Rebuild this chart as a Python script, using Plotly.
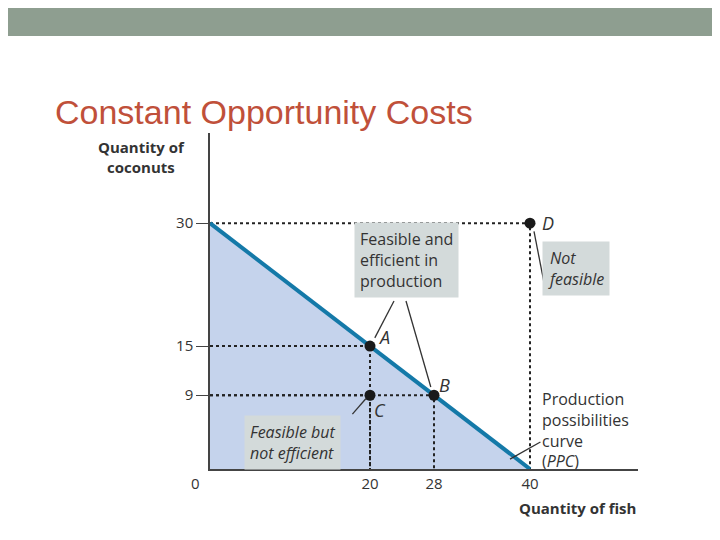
import plotly.graph_objects as go

ppc_x = [0, 40]
ppc_y = [30, 0]
pt_names = ["A", "B", "C", "D"]
pt_x = [20, 28, 20, 40]
pt_y = [15, 9, 9, 30]
xticks = [20, 28, 40]
yticks = [9, 15, 30]

fig = go.Figure()
fig.add_trace(go.Scatter(x=ppc_x + [0], y=ppc_y + [0], fill="toself", fillcolor="#C5D3EC",
                         line=dict(width=0), mode="lines", hoverinfo="skip"))
dot = dict(color="#222", width=2, dash="dot")
for x, y in zip(pt_x, pt_y):
    fig.add_trace(go.Scatter(x=[0, x, x], y=[y, y, 0], mode="lines", line=dot, hoverinfo="skip"))
fig.add_trace(go.Scatter(x=ppc_x, y=ppc_y, mode="lines", line=dict(color="#1479A8", width=4)))
fig.add_trace(go.Scatter(x=pt_x, y=pt_y, mode="markers", marker=dict(color="#1a1a1a", size=11)))

lab_font = dict(family="Open Sans", size=16, color="#333")
for n, x, y, dx, dy in zip(pt_names, pt_x, pt_y, [1.8, 1.3, 1.2, 2.3], [1.1, 1.3, -1.8, 0]):
    fig.add_annotation(x=x + dx, y=y + dy, text=f"<i>{n}</i>", showarrow=False, font=dict(family="Open Sans", size=18, color="#333"))

box = dict(bgcolor="#D3DADA", borderpad=5, showarrow=False, align="left", font=lab_font, xanchor="left")
fig.add_annotation(x=18, y=25.5, text="Feasible and<br>efficient in<br>production", **box)
fig.add_annotation(x=41.5, y=24.5, text="<i>Not<br>feasible</i>", **box)
fig.add_annotation(x=4.3, y=3.2, text="<i>Feasible but<br>not efficient</i>", **box)
fig.add_annotation(x=41.2, y=4.8, text="Production<br>possibilities<br>curve<br>(<i>PPC</i>)", showarrow=False,
                   align="left", xanchor="left", font=lab_font)
ln = dict(color="#333", width=1.3)
for x0, y0, x1, y1 in [(23, 20.5, 20.6, 16), (24.5, 20.5, 27.6, 10), (41.8, 22.5, 40.5, 29),
                       (17.8, 6.7, 19.5, 8.6), (41.3, 3.3, 37.5, 1.2)]:
    fig.add_shape(type="line", x0=x0, y0=y0, x1=x1, y1=y1, line=ln)

fig.add_shape(type="rect", xref="paper", yref="paper", x0=-0.5, x1=1.3, y0=1.289, y1=1.45,
              fillcolor="#8E9E90", line=dict(width=0), layer="below")
fig.add_annotation(xref="paper", yref="paper", x=-0.367, y=1.125, text="Constant Opportunity Costs",
                   showarrow=False, xanchor="left", font=dict(family="Liberation Sans", size=34, color="#C0503A"))
fig.add_annotation(xref="paper", yref="paper", x=-0.161, y=0.995, text="<b>Quantity of<br>coconuts</b>",
                   showarrow=False, xanchor="center", yanchor="top", align="center", font=dict(family="Open Sans", size=15, color="#333"))
fig.add_annotation(xref="paper", yref="paper", x=1.0, y=-0.116, text="<b>Quantity of fish</b>",
                   showarrow=False, xanchor="right", yanchor="middle", font=dict(family="Open Sans", size=15, color="#333"))
fig.add_annotation(xref="paper", yref="paper", x=-0.033, y=-0.042, text="0",
                   showarrow=False, xanchor="center", yanchor="middle", font=dict(family="Open Sans", size=15, color="#333"))

fig.update_layout(width=720, height=540, showlegend=False, plot_bgcolor="white", paper_bgcolor="white",
                  margin=dict(l=202, r=90, t=125, b=79, autoexpand=False),
                  xaxis=dict(range=[0, 53.5], tickvals=xticks, showgrid=False, zeroline=False, showline=True,
                             linecolor="#444", linewidth=1.5, ticks="", automargin=False,
                             tickfont=dict(family="Open Sans", size=15, color="#333")),
                  yaxis=dict(range=[0, 41], tickvals=yticks, showgrid=False, zeroline=False, showline=True,
                             linecolor="#444", linewidth=1.5, ticks="outside", ticklen=12, automargin=False,
                             tickfont=dict(family="Open Sans", size=15, color="#333")))
fig.write_html("out.html")
